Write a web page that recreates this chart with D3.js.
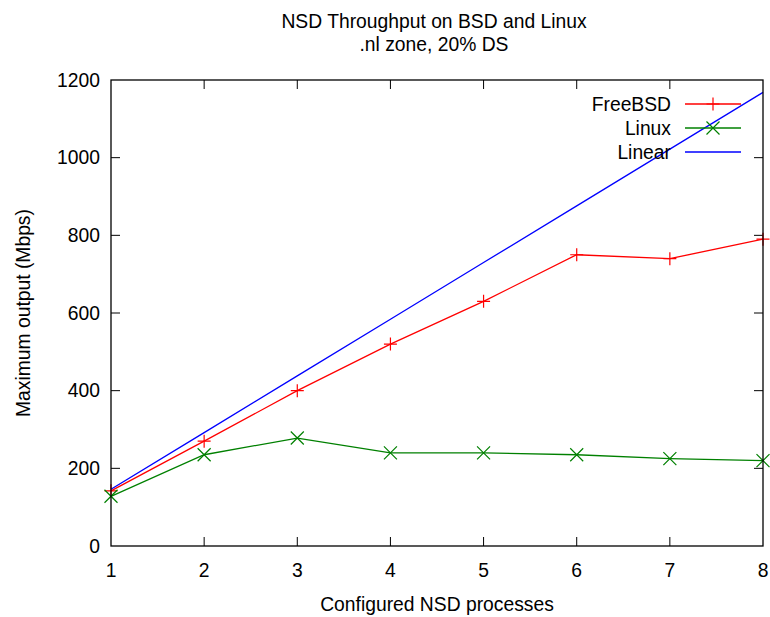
<!DOCTYPE html>
<html>
<head>
<meta charset="utf-8">
<script src="https://cdn.jsdelivr.net/npm/d3@7"></script>
<style>
  body { margin: 0; background: #fff; }
  svg { display: block; font-family: "Liberation Sans", Arial, sans-serif; }
</style>
</head>
<body>
<svg id="chart" width="770" height="617"></svg>
<script>
// data
var processes = [1, 2, 3, 4, 5, 6, 7, 8];
var freebsd = [142, 270, 400, 520, 630, 750, 740, 790];
var linux = [128, 235, 278, 240, 240, 235, 225, 220];
var linear = [146, 292, 438, 584, 730, 876, 1022, 1168];
var yTicks = [0, 200, 400, 600, 800, 1000, 1200];

var margin = { top: 80, right: 7, bottom: 71, left: 111 },
  W = 770, H = 617,
  w = W - margin.left - margin.right,
  h = H - margin.top - margin.bottom;
var fs = 19.3;

var svg = d3.select("#chart");

var x = d3.scaleLinear().domain([1, 8]).range([0, w]);
var y = d3.scaleLinear().domain([0, 1200]).range([h, 0]);

var g = svg.append("g").attr("transform", `translate(${margin.left},${margin.top})`);

// ticks, gnuplot style: inward on all four sides
var tl = 9;
var tickG = g.append("g").attr("stroke", "#000").attr("stroke-width", 1);
processes.forEach(function (p) {
  if (p === 1 || p === 8) return;
  tickG.append("line").attr("x1", x(p)).attr("x2", x(p)).attr("y1", h).attr("y2", h - tl);
  tickG.append("line").attr("x1", x(p)).attr("x2", x(p)).attr("y1", 0).attr("y2", tl);
});
yTicks.forEach(function (t) {
  if (t === 0 || t === 1200) return;
  tickG.append("line").attr("x1", 0).attr("x2", tl).attr("y1", y(t)).attr("y2", y(t));
  tickG.append("line").attr("x1", w).attr("x2", w - tl).attr("y1", y(t)).attr("y2", y(t));
});

// tick labels
g.append("g").selectAll("text").data(processes).join("text")
  .attr("x", d => x(d)).attr("y", h + 31)
  .attr("text-anchor", "middle").attr("font-size", fs).text(d => d);
g.append("g").selectAll("text").data(yTicks).join("text")
  .attr("x", -11).attr("y", d => y(d)).attr("dy", "0.35em")
  .attr("text-anchor", "end").attr("font-size", fs).text(d => d);

// series
var line = d3.line().x((d, i) => x(processes[i])).y(d => y(d));
var series = [
  { name: "FreeBSD", values: freebsd, color: "#ff0000", marker: "plus" },
  { name: "Linux", values: linux, color: "#008000", marker: "cross" },
  { name: "Linear", values: linear, color: "#0000ff", marker: null }
];

function drawMarker(sel, type, cx, cy, color) {
  var s = 6.5;
  if (type === "plus") {
    sel.append("path").attr("d", `M${cx - s},${cy}H${cx + s}M${cx},${cy - s}V${cy + s}`)
      .attr("stroke", color).attr("stroke-width", 1.2).attr("fill", "none");
  } else if (type === "cross") {
    sel.append("path").attr("d", `M${cx - s},${cy - s}L${cx + s},${cy + s}M${cx - s},${cy + s}L${cx + s},${cy - s}`)
      .attr("stroke", color).attr("stroke-width", 1.2).attr("fill", "none");
  }
}

series.forEach(function (s) {
  g.append("path").datum(s.values).attr("d", line)
    .attr("fill", "none").attr("stroke", s.color).attr("stroke-width", 1.3);
  if (s.marker) {
    var mg = g.append("g");
    s.values.forEach(function (v, i) { drawMarker(mg, s.marker, x(processes[i]), y(v), s.color); });
  }
});

// legend
var lg = g.append("g");
series.forEach(function (s, i) {
  var ly = 24 + i * 24;
  lg.append("text").attr("x", 560).attr("y", ly).attr("dy", "0.35em")
    .attr("text-anchor", "end").attr("font-size", fs).text(s.name);
  lg.append("line").attr("x1", 574).attr("x2", 630).attr("y1", ly).attr("y2", ly)
    .attr("stroke", s.color).attr("stroke-width", 1.3);
  if (s.marker) drawMarker(lg, s.marker, 602, ly, s.color);
});

// frame
g.append("rect").attr("width", w).attr("height", h)
  .attr("fill", "none").attr("stroke", "#000").attr("stroke-width", 1.3);

// titles
svg.append("text").attr("x", 434).attr("y", 28).attr("text-anchor", "middle")
  .attr("font-size", fs).text("NSD Throughput on BSD and Linux");
svg.append("text").attr("x", 434).attr("y", 51).attr("text-anchor", "middle")
  .attr("font-size", fs).text(".nl zone, 20% DS");
svg.append("text").attr("x", 437).attr("y", 611).attr("text-anchor", "middle")
  .attr("font-size", fs).text("Configured NSD processes");
svg.append("text").attr("transform", `translate(30,${margin.top + h / 2}) rotate(-90)`)
  .attr("text-anchor", "middle").attr("font-size", fs).text("Maximum output (Mbps)");
</script>
</body>
</html>
